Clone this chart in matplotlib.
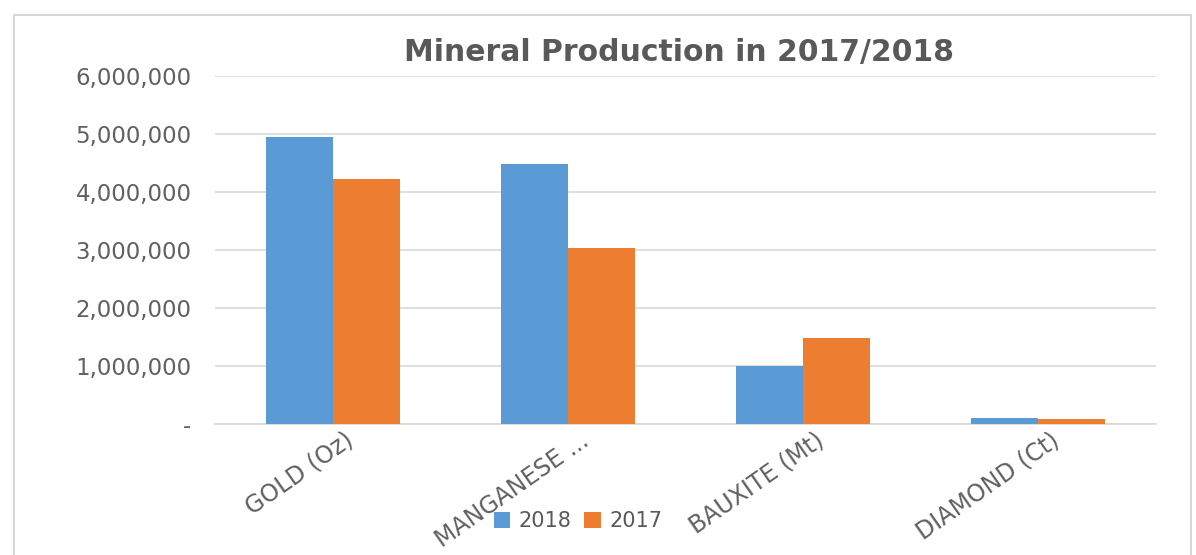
import matplotlib.pyplot as plt
import matplotlib.ticker as mticker
import matplotlib.transforms as mtransforms
from matplotlib.patches import Rectangle
import numpy as np

# mineral production
minerals = ['GOLD (Oz)', 'MANGANESE ...', 'BAUXITE (Mt)', 'DIAMOND (Ct)']
prod_2018 = [4950000, 4480000, 1000000, 110000]
prod_2017 = [4220000, 3040000, 1480000, 80000]
series_names = ['2018', '2017']

blue = '#5B9BD5'
orange = '#ED7D31'
grey_text = '#595959'
grid_col = '#D9D9D9'

plt.rcParams['font.family'] = ['DejaVu Sans']

fig = plt.figure(figsize=(11.96, 5.55), dpi=100)
# chart area border
fig.patches.append(Rectangle((14 / 1196, -0.1), (1191 - 14) / 1196, 1.1 - 15 / 555,
                             transform=fig.transFigure, fill=False,
                             edgecolor='#D0D0D0', linewidth=1.2))

ax = fig.add_axes([215 / 1196, 1 - 424 / 555, (1156 - 215) / 1196, (424 - 76) / 555])

x = np.arange(len(minerals))
w = 0.285
ax.bar(x - w / 2, prod_2018, w, color=blue, label=series_names[0], zorder=3)
ax.bar(x + w / 2, prod_2017, w, color=orange, label=series_names[1], zorder=3)

ax.set_xlim(-0.5, len(minerals) - 0.5)
ax.set_ylim(0, 6000000)
ax.set_yticks(np.arange(0, 6000001, 1000000))
ax.yaxis.set_major_formatter(mticker.FuncFormatter(
    lambda v, p: '-' if v == 0 else '{:,.0f}'.format(v)))
ax.grid(axis='y', color=grid_col, linewidth=1.2, zorder=0)
for s in ['top', 'right', 'left']:
    ax.spines[s].set_visible(False)
ax.spines['bottom'].set_color(grid_col)
ax.spines['bottom'].set_linewidth(1.2)
ax.tick_params(axis='y', length=0, pad=17, labelsize=16.5, labelcolor='#606060')
ax.tick_params(axis='x', length=0, pad=10, labelsize=17, labelcolor='#606060')

ax.set_xticks(x)
ax.set_xticklabels(minerals, rotation=35, ha='right', va='center',
                   rotation_mode='anchor')
shift = mtransforms.ScaledTranslation(18 / 100, 0, fig.dpi_scale_trans)
for lab in ax.get_xticklabels():
    lab.set_transform(lab.get_transform() + shift)

fig.text(679 / 1196, 1 - 53 / 555, 'Mineral Production in 2017/2018',
         ha='center', va='center', fontsize=21.5, fontweight='bold', color=grey_text)

leg = fig.legend(loc='center', bbox_to_anchor=(578 / 1196, 1 - 521 / 555),
                 ncol=2, frameon=False, fontsize=15, handlelength=0.8,
                 handleheight=0.8, handletextpad=0.4, columnspacing=0.6)
for t in leg.get_texts():
    t.set_color(grey_text)

fig.savefig('out.png', dpi=100)
